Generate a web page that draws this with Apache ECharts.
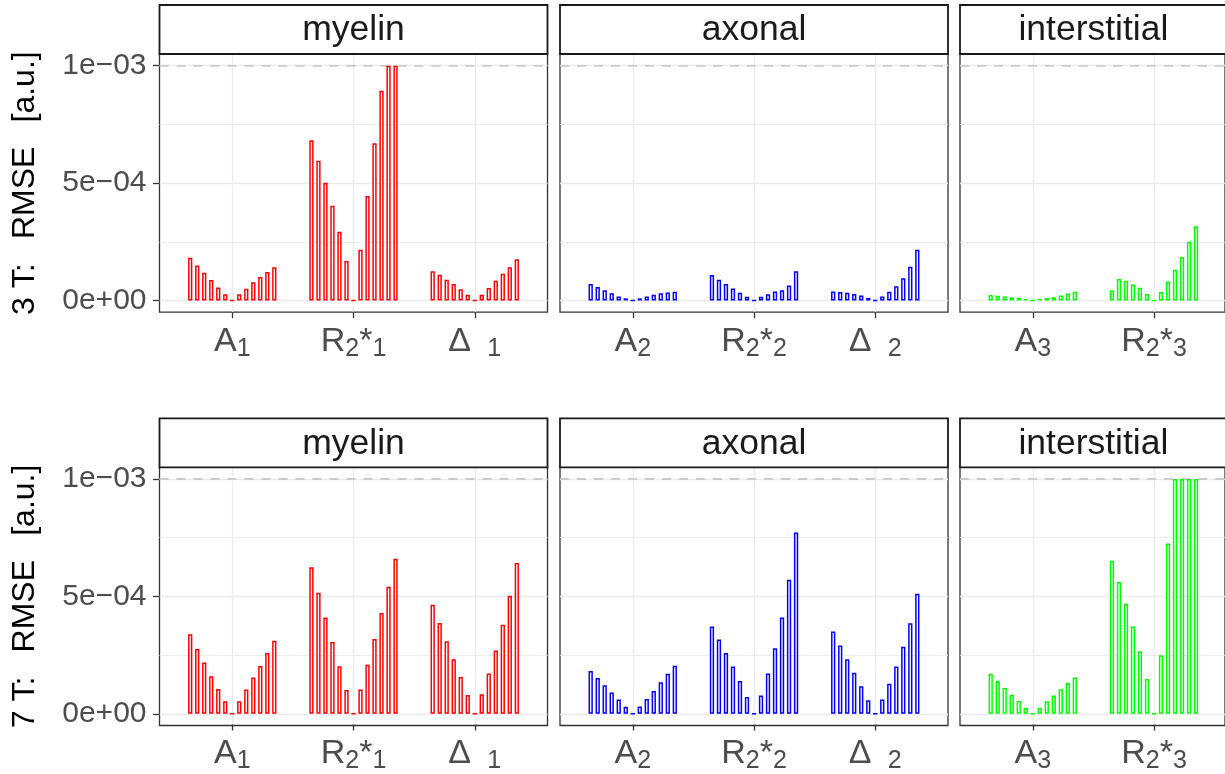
<!DOCTYPE html>
<html>
<head>
<meta charset="utf-8">
<title>RMSE</title>
<script src="https://cdn.jsdelivr.net/npm/echarts@6/dist/echarts.min.js"></script>
<style>
html, body { margin: 0; padding: 0; background: #fff; }
#main { width: 1225px; height: 774px; }
</style>
</head>
<body>
<div id="main"></div>
<script>
// facet labels, categories and tick labels
var rowTitles = ['3 T:\u2009  RMSE\u2009  [a.u.]', '7 T:\u2009  RMSE\u2009  [a.u.]'];
var panelTitles = ['myelin', 'axonal', 'interstitial'];
var panelColors = ['#FF0000', '#0000FF', '#00FF00'];
var catsMyelin = ['{m|A}{s|1}', '{m|R}{s|2}{m|*}{s|1}', '{m|\u0394 }{s| 1}'];
var catsAxonal = ['{m|A}{s|2}', '{m|R}{s|2}{m|*}{s|2}', '{m|\u0394 }{s| 2}'];
var catsInter = ['{m|A}{s|3}', '{m|R}{s|2}{m|*}{s|3}'];
var yTicks = [0, 5e-4, 1e-3];
var yTickLabels = ['0e+00', '5e\u221204', '1e\u221203'];
var refLine = 1e-3;

// 3 T, 13 bars per parameter
var t3_myelin_A1   = [1.82e-4, 1.49e-4, 1.18e-4, 0.87e-4, 0.55e-4, 0.27e-4, 0, 0.26e-4, 0.50e-4, 0.78e-4, 1.00e-4, 1.21e-4, 1.42e-4];
var t3_myelin_R2s1 = [6.83e-4, 5.95e-4, 5.01e-4, 4.03e-4, 2.93e-4, 1.68e-4, 0, 2.16e-4, 4.45e-4, 6.70e-4, 8.93e-4, 1e-3, 1e-3];
var t3_myelin_D1   = [1.24e-4, 1.10e-4, 0.88e-4, 0.70e-4, 0.48e-4, 0.24e-4, 0, 0.24e-4, 0.53e-4, 0.84e-4, 1.14e-4, 1.42e-4, 1.76e-4];
var t3_axonal_A2   = [0.70e-4, 0.57e-4, 0.44e-4, 0.31e-4, 0.17e-4, 0.09e-4, 0, 0.09e-4, 0.17e-4, 0.24e-4, 0.31e-4, 0.34e-4, 0.37e-4];
var t3_axonal_R2s2 = [1.08e-4, 0.88e-4, 0.70e-4, 0.51e-4, 0.33e-4, 0.16e-4, 0, 0.16e-4, 0.26e-4, 0.38e-4, 0.43e-4, 0.64e-4, 1.24e-4];
var t3_axonal_D2   = [0.38e-4, 0.36e-4, 0.33e-4, 0.28e-4, 0.21e-4, 0.11e-4, 0, 0.17e-4, 0.37e-4, 0.61e-4, 0.95e-4, 1.44e-4, 2.16e-4];
var t3_inter_A3    = [0.23e-4, 0.20e-4, 0.17e-4, 0.14e-4, 0.11e-4, 0.07e-4, 0, 0.07e-4, 0.10e-4, 0.14e-4, 0.21e-4, 0.30e-4, 0.37e-4];
var t3_inter_R2s3  = [0.44e-4, 0.91e-4, 0.84e-4, 0.68e-4, 0.54e-4, 0.28e-4, 0, 0.36e-4, 0.81e-4, 1.31e-4, 1.85e-4, 2.50e-4, 3.16e-4];

// 7 T
var t7_myelin_A1   = [3.39e-4, 2.76e-4, 2.18e-4, 1.60e-4, 1.05e-4, 0.53e-4, 0, 0.53e-4, 1.03e-4, 1.55e-4, 2.04e-4, 2.59e-4, 3.11e-4];
var t7_myelin_R2s1 = [6.24e-4, 5.16e-4, 4.10e-4, 3.06e-4, 2.02e-4, 1.01e-4, 0, 1.03e-4, 2.09e-4, 3.18e-4, 4.29e-4, 5.41e-4, 6.60e-4];
var t7_myelin_D1   = [4.64e-4, 3.87e-4, 3.09e-4, 2.32e-4, 1.57e-4, 0.80e-4, 0, 0.83e-4, 1.72e-4, 2.69e-4, 3.79e-4, 5.03e-4, 6.42e-4];
var t7_axonal_A2   = [1.82e-4, 1.52e-4, 1.21e-4, 0.91e-4, 0.61e-4, 0.30e-4, 0, 0.31e-4, 0.63e-4, 0.97e-4, 1.34e-4, 1.70e-4, 2.05e-4];
var t7_axonal_R2s2 = [3.72e-4, 3.16e-4, 2.59e-4, 2.01e-4, 1.40e-4, 0.71e-4, 0, 0.78e-4, 1.72e-4, 2.79e-4, 4.10e-4, 5.71e-4, 7.72e-4];
var t7_axonal_D2   = [3.50e-4, 2.91e-4, 2.32e-4, 1.75e-4, 1.17e-4, 0.58e-4, 0, 0.61e-4, 1.28e-4, 2.01e-4, 2.85e-4, 3.86e-4, 5.11e-4];
var t7_inter_A3    = [1.70e-4, 1.40e-4, 1.10e-4, 0.81e-4, 0.54e-4, 0.26e-4, 0, 0.26e-4, 0.53e-4, 0.78e-4, 1.04e-4, 1.31e-4, 1.55e-4];
var t7_inter_R2s3  = [6.52e-4, 5.61e-4, 4.69e-4, 3.72e-4, 2.66e-4, 1.48e-4, 0, 2.49e-4, 7.25e-4, 1e-3, 1e-3, 1e-3, 1e-3];

var catSets = [catsMyelin, catsAxonal, catsInter];
var panels = [
	[[t3_myelin_A1, t3_myelin_R2s1, t3_myelin_D1], [t3_axonal_A2, t3_axonal_R2s2, t3_axonal_D2], [t3_inter_A3, t3_inter_R2s3]],
	[[t7_myelin_A1, t7_myelin_R2s1, t7_myelin_D1], [t7_axonal_A2, t7_axonal_R2s2, t7_axonal_D2], [t7_inter_A3, t7_inter_R2s3]]
];

// layout (px)
var FONT = "'Liberation Sans', Arial, Helvetica, sans-serif";
var U = 121.25;                 // width of one category step
var colLeft = [159.5, 560, 960];
var rowTop = [54, 467.3];
var PANEL_H = 258.2;
var STRIP_H = 49;

var richX = {
	m: { fontSize: 34, color: '#4D4D4D', fontFamily: FONT, lineHeight: 40, verticalAlign: 'middle' },
	s: { fontSize: 25, color: '#4D4D4D', fontFamily: FONT, lineHeight: 30, padding: [16, 0, 0, 0], verticalAlign: 'middle' }
};

function yLabel(v) {
	for (var i = 0; i < yTicks.length; i++) {
		if (Math.abs(yTicks[i] - v) < 1e-9) return yTickLabels[i];
	}
	return '';
}

var grids = [], xAxes = [], yAxes = [], series = [], graphics = [];

for (var r = 0; r < 2; r++) {
	for (var c = 0; c < 3; c++) {
		var cats = catSets[c], n = cats.length;
		var pl = colLeft[c], pw = (n + 0.2) * U, pt = rowTop[r], ph = PANEL_H;
		var dTop = pt + ph * 0.05 / 1.1, dH = ph / 1.1;
		var g;

		// panel border
		g = grids.length;
		grids.push({ left: pl, top: pt, width: pw, height: ph, show: true, borderColor: '#333', borderWidth: 1.3, backgroundColor: 'rgba(0,0,0,0)' });
		xAxes.push({ gridIndex: g, type: 'value', show: false });
		yAxes.push({ gridIndex: g, type: 'value', show: false });

		// horizontal grid, y labels, dashed reference line
		g = grids.length;
		grids.push({ left: pl, top: dTop, width: pw, height: dH });
		xAxes.push({ gridIndex: g, type: 'value', min: 0, max: 1, show: false });
		yAxes.push({
			gridIndex: g, type: 'value', min: 0, max: 1e-3, interval: 5e-4,
			axisLine: { show: false },
			axisTick: { show: c === 0, length: 6.5, lineStyle: { color: '#333', width: 1.3 } },
			axisLabel: { show: c === 0, margin: 13, fontSize: 30, color: '#4D4D4D', fontFamily: FONT, formatter: yLabel },
			splitLine: { show: true, lineStyle: { color: '#EBEBEB', width: 1.3 } },
			minorTick: { show: false, splitNumber: 2 },
			minorSplitLine: { show: true, lineStyle: { color: '#EBEBEB', width: 0.9 } },
			name: c === 0 ? rowTitles[r] : '',
			nameLocation: 'middle', nameRotate: 90, nameGap: 118,
			nameTextStyle: { fontSize: 32, color: '#000', fontFamily: FONT }
		});
		series.push({
			type: 'line', xAxisIndex: g, yAxisIndex: g, silent: true, z: 1,
			data: [[0, refLine], [1, refLine]], symbol: 'none',
			lineStyle: { type: [9, 8], color: '#CCCCCC', width: 2 }
		});

		// vertical grid lines + x labels at category centres
		g = grids.length;
		grids.push({ left: pl + 0.6 * U, top: pt, width: (n - 1) * U, height: ph });
		xAxes.push({
			gridIndex: g, type: 'category', data: cats, boundaryGap: false,
			axisLine: { show: false },
			axisTick: { show: true, interval: 0, length: 6, lineStyle: { color: '#333', width: 1.3 } },
			splitLine: { show: true, interval: 0, lineStyle: { color: '#EBEBEB', width: 1.3 } },
			axisLabel: { interval: 0, margin: 9, rich: richX }
		});
		yAxes.push({ gridIndex: g, type: 'value', show: false });

		// bars
		g = grids.length;
		grids.push({ left: pl + 0.1 * U, top: dTop, width: n * U, height: dH });
		xAxes.push({ gridIndex: g, type: 'category', data: cats, show: false });
		yAxes.push({ gridIndex: g, type: 'value', min: 0, max: 1e-3, show: false });
		var groups = panels[r][c];
		for (var k = 0; k < 13; k++) {
			series.push({
				type: 'bar', xAxisIndex: g, yAxisIndex: g, silent: true,
				barWidth: 4.3, barGap: '63%',
				data: groups.map(function (a) { return a[k]; }),
				itemStyle: { color: '#fff', borderColor: panelColors[c], borderWidth: 1.5 }
			});
		}

		// strip
		graphics.push({ type: 'rect', z: 10, shape: { x: pl, y: pt - STRIP_H, width: pw, height: STRIP_H },
			style: { fill: '#fff', stroke: '#1A1A1A', lineWidth: 1.8 } });
		graphics.push({ type: 'text', z: 11, x: pl + pw / 2, y: pt - STRIP_H / 2 + 1,
			style: { text: panelTitles[c], fill: '#1A1A1A', fontSize: 35.5, fontFamily: FONT, align: 'center', verticalAlign: 'middle' } });
	}
}

var myChart = echarts.init(document.getElementById('main'), null, { renderer: 'canvas' });
myChart.setOption({
	animation: false,
	backgroundColor: '#fff',
	grid: grids,
	xAxis: xAxes,
	yAxis: yAxes,
	series: series,
	graphic: graphics
});
</script>
</body>
</html>
